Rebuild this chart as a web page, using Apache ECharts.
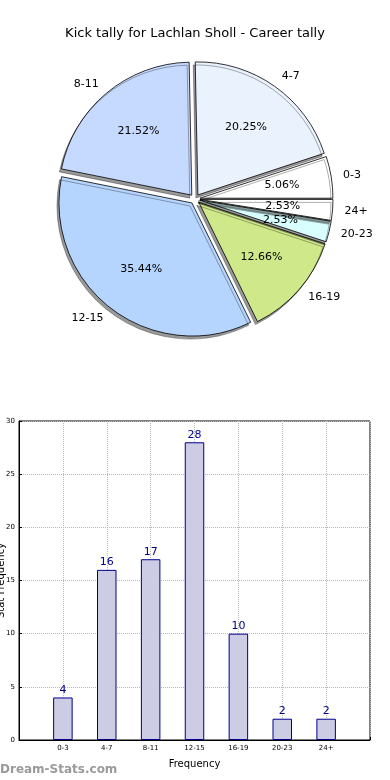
<!DOCTYPE html>
<html><head><meta charset="utf-8">
<script src="https://cdn.jsdelivr.net/npm/echarts@6/dist/echarts.min.js"></script>
<style>html,body{margin:0;padding:0;background:#fff}#c{width:390px;height:780px}</style>
</head><body><div id="c"></div>
<script>
var categories = ['0-3','4-7','8-11','12-15','16-19','20-23','24+'];
var values = [4,16,17,28,10,2,2];
var pieColors = ['#ffffff','#eaf2fe','#c6d9fe','#b5d5fe','#cfe98a','#d9fefe','#ffffff'];
var yTicks = [0,5,10,15,20,25,30];
var titleText = 'Kick tally for Lachlan Sholl - Career tally';
var xName = 'Frequency';
var yName = 'Stat Frequency';

var total = values.reduce(function(a,b){return a+b;},0);
var FONT = 'DejaVu Sans';
function pieData(withColor){
  return categories.map(function(c,i){
    return {name:c, value:values[i], selected:true,
      itemStyle: withColor ? {color:pieColors[i]} : {color:'rgba(0,0,0,0)', borderWidth:0}};
  });
}
var chart = echarts.init(document.getElementById('c'), null, {renderer:'canvas'});
chart.setOption({
  animation:false,
  title:{text:titleText,left:'center',top:22,textStyle:{fontFamily:FONT,fontSize:13,fontWeight:'normal',color:'#000'}},
  graphic:[{type:'text',left:0,top:764,style:{text:'Dream-Stats.com',fontFamily:FONT,fontSize:12,fontWeight:'bold',fill:'#9a9a9a'}}],
  grid:{left:19,right:20,top:421,bottom:40,show:true,borderColor:'#000',borderWidth:1,containLabel:false,outerBoundsMode:'none'},
  xAxis:{type:'value',min:-1,max:7,interval:1,
    name:xName,nameLocation:'middle',nameGap:19,nameTextStyle:{fontFamily:FONT,fontSize:10,color:'#000'},
    axisLine:{show:true,onZero:false,lineStyle:{color:'#000'}},
    axisTick:{show:true,inside:true,length:3,lineStyle:{color:'#000'}},
    axisLabel:{fontFamily:FONT,fontSize:7,color:'#000',margin:5,
      formatter:function(v){return (v>=0 && v<categories.length)?categories[v]:'';}},
    splitLine:{show:true,lineStyle:{color:'#b8b8b8',type:'dotted',width:1}}},
  yAxis:{type:'value',min:yTicks[0],max:yTicks[yTicks.length-1],interval:5,
    name:yName,nameLocation:'middle',nameGap:13,nameRotate:90,nameMoveOverlap:false,
    nameTextStyle:{fontFamily:FONT,fontSize:10,color:'#000'},
    axisLine:{show:true,onZero:false,lineStyle:{color:'#000'}},
    axisTick:{show:true,inside:true,length:3,lineStyle:{color:'#000'}},
    axisLabel:{fontFamily:FONT,fontSize:7,color:'#000',margin:4},
    splitLine:{show:true,lineStyle:{color:'#b8b8b8',type:'dotted',width:1}}},
  series:[
    {type:'pie',center:[195,199],radius:133,startAngle:0,clockwise:false,
     selectedMode:'multiple',selectedOffset:5,avoidLabelOverlap:false,silent:true,
     itemStyle:{borderColor:'#000',borderWidth:0.8,shadowColor:'rgba(0,0,0,0.4)',shadowOffsetX:-2,shadowOffsetY:3,shadowBlur:0},
     select:{itemStyle:{borderColor:'#000',borderWidth:0.8}},
     label:{show:true,position:'outside',fontFamily:FONT,fontSize:11,color:'#000',formatter:'{b}',distanceToLabelLine:0},
     labelLine:{show:false,length:12,length2:0},
     data:pieData(true)},
    {type:'pie',center:[195,199],radius:160,startAngle:0,clockwise:false,
     selectedMode:'multiple',selectedOffset:5,avoidLabelOverlap:false,silent:true,
     select:{itemStyle:{color:'rgba(0,0,0,0)',borderWidth:0}},
     label:{show:true,position:'inside',fontFamily:FONT,fontSize:11,color:'#000',
       formatter:function(p){return (p.value/total*100).toFixed(2)+'%';}},
     labelLine:{show:false},
     data:pieData(false)},
    {type:'bar',barWidth:19.5,
     itemStyle:{color:'#ccccE5',borderColor:'#00008b',borderWidth:1},
     label:{show:true,position:'top',distance:2,fontFamily:FONT,fontSize:11,color:'#00008b'},
     data:values.map(function(v,i){return [i,v];})}
  ]
});
</script></body></html>
